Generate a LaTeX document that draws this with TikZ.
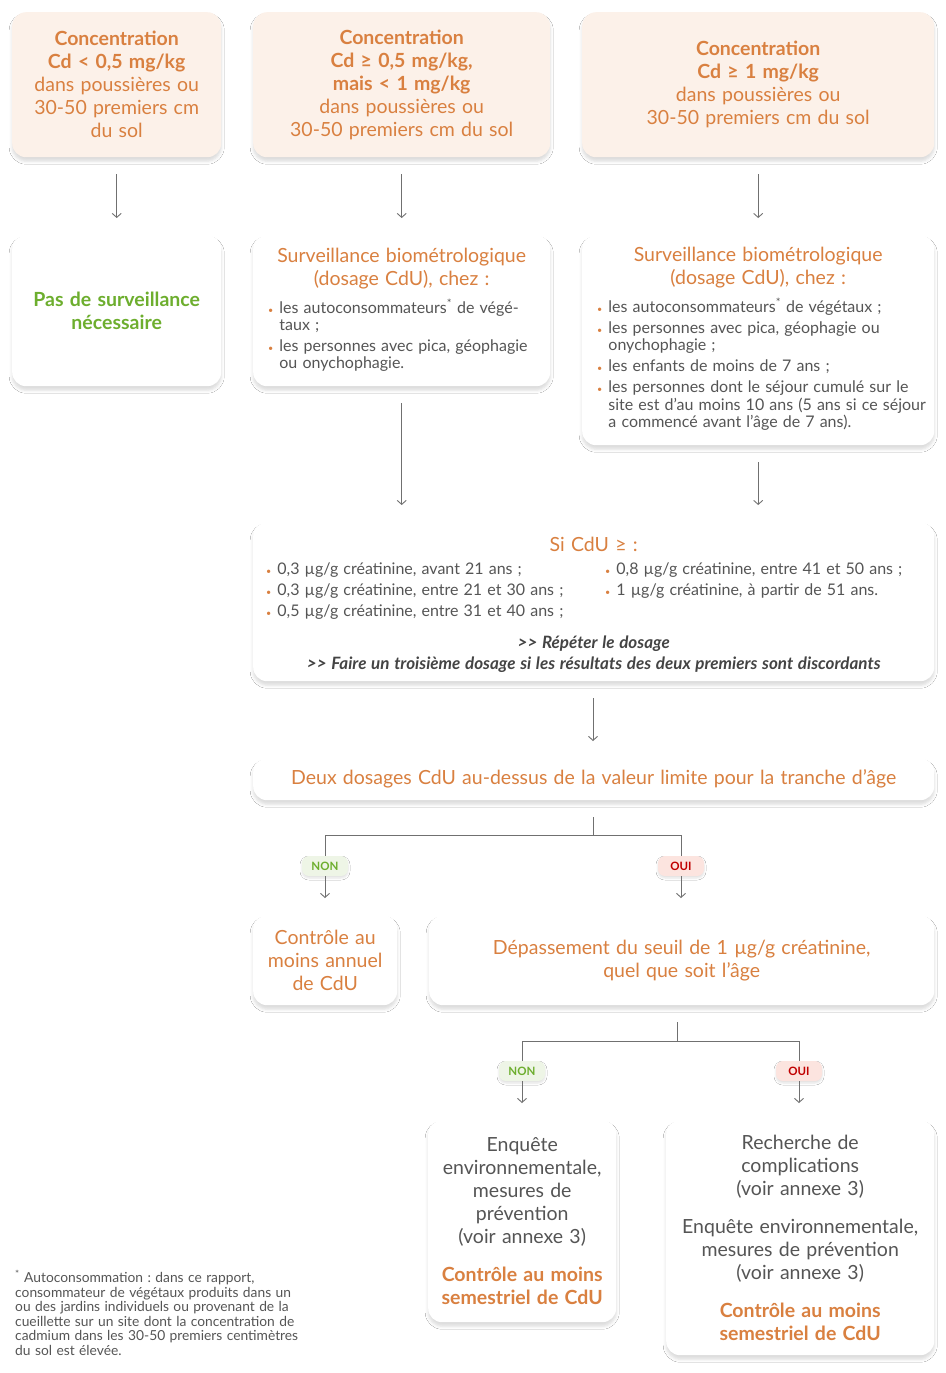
\documentclass[tikz,border=0pt]{standalone}
\usepackage{fontspec}
\setmainfont{Lato}[WordSpace=1.25]
\usetikzlibrary{arrows.meta,shadows.blur}

\definecolor{orangeT}{HTML}{D98040}
\definecolor{peach}{HTML}{FCF1E9}
\definecolor{greenT}{HTML}{6DAE2E}
\definecolor{redT}{HTML}{C00000}
\definecolor{grayT}{HTML}{555555}
\definecolor{darkT}{HTML}{444444}
\definecolor{lineC}{HTML}{707070}
\definecolor{nonfill}{HTML}{EEF5E6}
\definecolor{ouifill}{HTML}{FCE4DF}

\newcommand{\espace}{\spaceskip=\fontdimen2\font\relax\xspaceskip=\spaceskip}
\newcommand{\puce}{\textcolor{orangeT}{\fontsize{9}{9}\selectfont •}}
\newcommand{\titre}{\fontsize{19.5}{23}\selectfont\espace}
\newcommand{\corps}{\fontsize{16}{17}\selectfont\espace}

\begin{document}
\begin{tikzpicture}[x=1pt, y=-1pt,
    box/.style={rectangle, rounded corners=14pt, fill=white, anchor=north west, inner sep=0pt,
        align=center, text=orangeT, font=\titre, execute at begin node=\espace,
        blur shadow={shadow xshift=0pt, shadow yshift=-4pt, shadow blur radius=3pt, shadow opacity=14}},
    topbox/.style={box, fill=peach},
    tagbox/.style={rectangle, rounded corners=7pt, minimum width=46, minimum height=20, inner sep=0pt,
        font=\fontsize{11.5}{11.5}\selectfont\bfseries,
        blur shadow={shadow xshift=0pt, shadow yshift=-2pt, shadow blur radius=2pt, shadow opacity=12}},
    conn/.style={draw=lineC, line width=0.9pt},
    flow/.style={conn, -{Straight Barb[length=4pt,width=9pt]}, shorten <=17pt, shorten >=17pt}
]
    \fill[white] (0,0) rectangle (945,1373);
    \useasboundingbox (0,0) rectangle (945,1373);

    % Draw concentration boxes
    \node[topbox, minimum width=209, minimum height=145, text width=205] (concA) at (12,12)
        {\textbf{Concentration\\Cd < 0,5 mg/kg}\\dans poussières ou\\30-50 premiers cm\\du sol};
    \node[topbox, minimum width=297, minimum height=145, text width=290] (concB) at (253,12)
        {\textbf{Concentration\\Cd ≥ 0,5 mg/kg,\\mais < 1 mg/kg}\\dans poussières ou\\30-50 premiers cm du sol};
    \node[topbox, minimum width=352, minimum height=145, text width=340] (concC) at (582,12)
        {\textbf{Concentration\\Cd ≥ 1 mg/kg}\\dans poussières ou\\30-50 premiers cm du sol};

    % Draw surveillance boxes
    \node[box, minimum width=209, minimum height=151, text width=205, text=greenT] (pasSurv) at (12,235)
        {\textbf{Pas de surveillance\\nécessaire}};
    \node[box, minimum width=297, minimum height=151, text width=267] (survB) at (253,235)
        {Surveillance biométrologique\\(dosage CdU), chez :\par\vspace{9pt}
         {\raggedright\corps\color{grayT}
         \begin{tabular}{@{}l@{\hspace{6pt}}l@{}}
         \puce & les autoconsommateurs\textsuperscript{*} de végé-\\
               & taux ;\\[4pt]
         \puce & les personnes avec pica, géophagie\\
               & ou onychophagie.
         \end{tabular}\par}};
    \node[box, minimum width=352, minimum height=210, text width=322] (survC) at (582,235)
        {Surveillance biométrologique\\(dosage CdU), chez :\par\vspace{9pt}
         {\raggedright\corps\color{grayT}
         \begin{tabular}{@{}l@{\hspace{6pt}}l@{}}
         \puce & les autoconsommateurs\textsuperscript{*} de végétaux ;\\[4pt]
         \puce & les personnes avec pica, géophagie ou\\
               & onychophagie ;\\[4pt]
         \puce & les enfants de moins de 7 ans ;\\[4pt]
         \puce & les personnes dont le séjour cumulé sur le\\
               & site est d'au moins 10 ans (5 ans si ce séjour\\
               & a commencé avant l'âge de 7 ans).
         \end{tabular}\par}};

    % Draw threshold box
    \node[box, minimum width=681, minimum height=159, text width=655] (seuils) at (253,522)
        {\rule{0pt}{20pt}Si CdU ≥ :\par\vspace{6pt}
         {\raggedright\corps\color{grayT}
         \makebox[339pt][l]{\begin{tabular}[t]{@{}l@{\hspace{6pt}}l@{}}
         \puce & 0,3 µg/g créatinine, avant 21 ans ;\\[4pt]
         \puce & 0,3 µg/g créatinine, entre 21 et 30 ans ;\\[4pt]
         \puce & 0,5 µg/g créatinine, entre 31 et 40 ans ;
         \end{tabular}}%
         \begin{tabular}[t]{@{}l@{\hspace{6pt}}l@{}}
         \puce & 0,8 µg/g créatinine, entre 41 et 50 ans ;\\[4pt]
         \puce & 1 µg/g créatinine, à partir de 51 ans.
         \end{tabular}\par}
         \vspace{13pt}
         {\fontsize{17}{21}\selectfont\bfseries\itshape\espace\color{darkT}
         {>}{>} Répéter le dosage\\
         {>}{>} Faire un troisième dosage si les résultats des deux premiers sont discordants\par}};

    % Draw decision boxes
    \node[box, minimum width=681, minimum height=42, text width=670] (deuxDos) at (253,758)
        {Deux dosages CdU au-dessus de la valeur limite pour la tranche d’âge};
    \node[box, minimum width=144, minimum height=90, text width=140] (ctrlAnnuel) at (253,915)
        {Contrôle au\\moins annuel\\de CdU};
    \node[box, minimum width=505, minimum height=90, text width=480] (depasse) at (429,915)
        {Dépassement du seuil de 1 µg/g créatinine,\\quel que soit l’âge};

    % Draw final boxes
    \node[box, minimum width=188, minimum height=202, text width=186] (enquete) at (428,1120)
        {{\color{grayT}Enquête\\environnementale,\\mesures de\\prévention\\(voir annexe 3)\par}
         \vspace{15pt}
         \textbf{Contrôle au moins\\semestriel de CdU}};
    \node[box, minimum width=268, minimum height=235, text width=262] (recherche) at (666,1120)
        {{\color{grayT}Recherche de\\complications\\(voir annexe 3)\par}
         \vspace{15pt}
         {\color{grayT}Enquête environnementale,\\mesures de prévention\\(voir annexe 3)\par}
         \vspace{15pt}
         \textbf{Contrôle au moins\\semestriel de CdU}};

    % Footnote
    \node[anchor=north west, inner sep=0pt, align=left, text=grayT, font=\fontsize{13.8}{14.5}\selectfont,
        execute at begin node=\espace] (note) at (15,1270)
        {\textsuperscript{*} Autoconsommation : dans ce rapport,\\
         consommateur de végétaux produits dans un\\
         ou des jardins individuels ou provenant de la\\
         cueillette sur un site dont la concentration de\\
         cadmium dans les 30-50 premiers centimètres\\
         du sol est élevée.};

    % Draw tags
    \node[tagbox, fill=nonfill, text=greenT] (non1) at (325,866) {NON};
    \node[tagbox, fill=ouifill, text=redT] (oui1) at (681,866) {OUI};
    \node[tagbox, fill=nonfill, text=greenT] (non2) at (522,1071) {NON};
    \node[tagbox, fill=ouifill, text=redT] (oui2) at (799,1071) {OUI};
    \coordinate (split1) at (593,835);
    \coordinate (split2) at (677,1041);

    % Draw arrows
    \draw[flow] (concA) -- (pasSurv);
    \draw[flow] (concB) -- (survB);
    \draw[flow] (concC) -- (survC);
    \draw[flow] (survB.south) -- (survB.south |- seuils.north);
    \draw[flow] (survC.south) -- (survC.south |- seuils.north);
    \draw[flow] (seuils.south -| split1) -- (deuxDos.north -| split1);

    % Draw branches
    \draw[conn] ([yshift=-17pt]deuxDos.south -| split1) -- (split1);
    \draw[conn] (split1) -| (non1.north);
    \draw[conn] (split1) -| (oui1.north);
    \draw[flow, shorten <=0pt] (non1.south) -- (non1.south |- ctrlAnnuel.north);
    \draw[flow, shorten <=0pt] (oui1.south) -- (oui1.south |- depasse.north);
    \draw[conn] ([yshift=-17pt]depasse.south -| split2) -- (split2);
    \draw[conn] (split2) -| (non2.north);
    \draw[conn] (split2) -| (oui2.north);
    \draw[flow, shorten <=0pt] (non2.south) -- (non2.south |- enquete.north);
    \draw[flow, shorten <=0pt] (oui2.south) -- (oui2.south |- recherche.north);
\end{tikzpicture}
\end{document}
